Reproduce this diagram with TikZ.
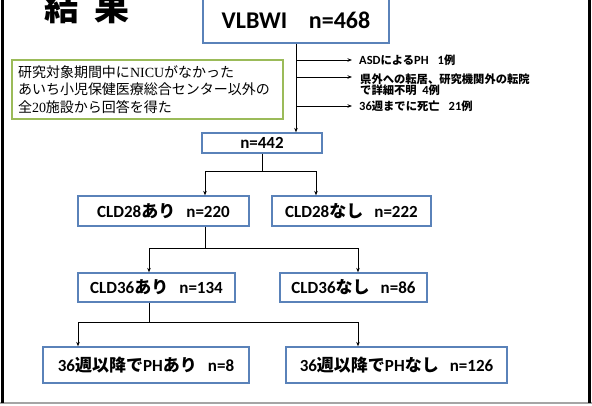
\documentclass[tikz,border=0pt]{standalone}
\usepackage{fontspec}
\setmainfont{Carlito}
\newfontfamily\cjk{Noto Sans CJK JP}
\newfontfamily\sjk{Liberation Serif}
\usetikzlibrary{arrows.meta}
\definecolor{boxblue}{RGB}{90,130,185}
\definecolor{boxgreen}{RGB}{155,187,89}
\definecolor{framegray}{RGB}{165,165,165}
\newcommand\jpx[1]{{\cjk #1}}
\newcommand\latx[1]{{\fontsize{12.5}{12}\selectfont #1}}
\begin{document}
\begin{tikzpicture}[x=1pt,y=-1pt,
  bx/.style={draw=boxblue, line width=1.3pt, fill=white, inner sep=0pt, font=\fontsize{17}{20}\selectfont\bfseries},
  conn/.style={line width=0.9pt, black},
  arr/.style={conn, -{Stealth[length=4.5pt,width=3.5pt]}},
  side/.style={anchor=west, inner sep=0pt, font=\fontsize{11.3}{11}\selectfont\bfseries, align=left}]
\useasboundingbox (0,0) rectangle (592,405);
\clip (0,0) rectangle (592,405);
% frame
\draw[framegray, line width=2pt] (0,402.5) -- (592,402.5);
\draw[black, line width=3pt] (2.5,0) -- (2.5,403);
\draw[black, line width=3pt] (589.5,0) -- (589.5,403);
% title
\node[font=\cjk\fontsize{35}{35}\selectfont\bfseries, anchor=base, inner sep=0pt] (title) at (87,20.5) {結\hspace{16pt}果};
% boxes
\node[bx, minimum width=186pt, minimum height=46pt, font=\fontsize{24}{26}\selectfont\bfseries] (vlbwi) at (296,20) {VLBWI\hspace{0.9em}n=468};
\node[draw=boxgreen, line width=1.2pt, minimum width=271pt, minimum height=59pt, text width=259pt, inner xsep=6pt, inner ysep=0pt, align=left, font=\cjk\fontsize{14}{17.5}\selectfont] (note) at (147.5,89.5) {研究対象期間中に{\sjk NICU}がなかった\\あいち小児保健医療総合センター以外の\\全{\sjk 20}施設から回答を得た};
\node[bx, minimum width=120pt, minimum height=20pt] (n442) at (262,143) {n=442};
\node[bx, minimum width=171pt, minimum height=30pt] (c28y) at (163.5,211) {CLD28\jpx{あり}\hspace{0.65em}n=220};
\node[bx, minimum width=159pt, minimum height=30pt] (c28n) at (351.5,211) {CLD28\jpx{なし}\hspace{0.65em}n=222};
\node[bx, minimum width=157pt, minimum height=29pt] (c36y) at (156.5,287.5) {CLD36\jpx{あり}\hspace{0.65em}n=134};
\node[bx, minimum width=147pt, minimum height=29pt] (c36n) at (353.5,287.5) {CLD36\jpx{なし}\hspace{0.65em}n=86};
\node[bx, minimum width=206pt, minimum height=36pt] (phy) at (146,365) {36\jpx{週以降で}PH\jpx{あり}\hspace{0.65em}n=8};
\node[bx, minimum width=221pt, minimum height=36pt] (phn) at (396.5,365) {36\jpx{週以降で}PH\jpx{なし}\hspace{0.65em}n=126};
% side texts
\coordinate (e1) at (352,60);
\coordinate (e2) at (352,77);
\coordinate (e3) at (352,106);
\node[side] (t1) at (359,60) {\latx{ASD}\jpx{による}\latx{PH}\hspace{0.8em}\latx{1}\jpx{例}};
\node[side] (t2) at (360,84.5) {\jpx{県外への転居、研究機関外の転院}\\\jpx{で詳細不明}\hspace{0.5em}\latx{4}\jpx{例}};
\node[side] (t3) at (359,106) {\latx{36}\jpx{週までに死亡}\hspace{0.8em}\latx{21}\jpx{例}};
% connectors
\draw[arr] (vlbwi.south) -- (vlbwi.south |- n442.north);
\draw[arr] (vlbwi.south |- e1) -- (e1);
\draw[arr] (vlbwi.south |- e2) -- (e2);
\draw[arr] (vlbwi.south |- e3) -- (e3);
\coordinate (s1) at (262,171);
\coordinate (l1) at (205,171);
\coordinate (r1) at (316,171);
\draw[conn] (n442.south) -- (s1);
\draw[conn] (l1) -- (r1);
\draw[arr] (l1) -- (l1 |- c28y.north);
\draw[arr] (r1) -- (r1 |- c28n.north);
\coordinate (l2) at (149,248);
\coordinate (r2) at (358,248);
\draw[conn] (l1 |- c28y.south) -- (l1 |- l2);
\draw[conn] (l2) -- (r2);
\draw[arr] (l2) -- (l2 |- c36y.north);
\draw[arr] (r2) -- (r2 |- c36n.north);
\coordinate (l3) at (78,322);
\coordinate (r3) at (358,322);
\draw[conn] (l2 |- c36y.south) -- (l2 |- l3);
\draw[conn] (l3) -- (r3);
\draw[arr] (l3) -- (l3 |- phy.north);
\draw[arr] (r3) -- (r3 |- phn.north);
\end{tikzpicture}
\end{document}
